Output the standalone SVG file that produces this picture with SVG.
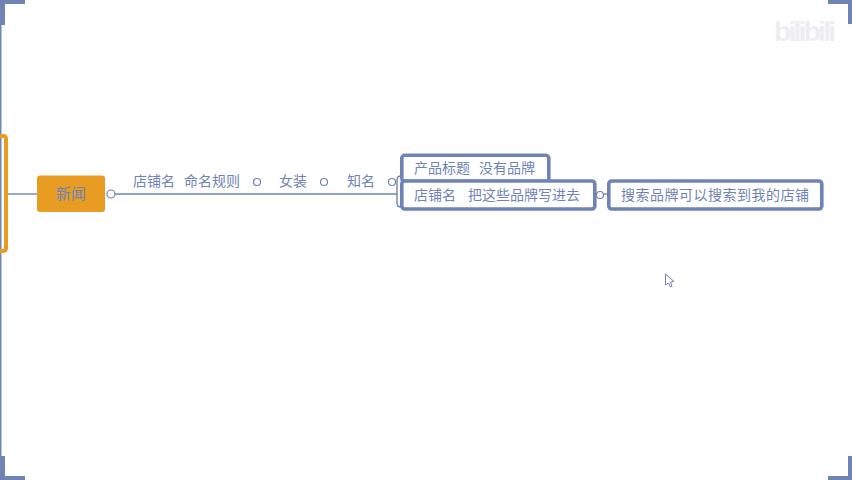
<svg xmlns="http://www.w3.org/2000/svg" width="852" height="480" viewBox="0 0 852 480">
<style>
.t{font-family:"Noto Sans CJK SC","Liberation Sans",sans-serif;font-size:14px;fill:#6f83b5}
.box{fill:#fff;stroke:#6f83b5;stroke-width:3.6}
.ln{fill:none;stroke:#6f83b5;stroke-width:1.4}
.c{fill:#fff;stroke:#6f83b5;stroke-width:1.2}
.frame{fill:#6f83b5}
</style>
<rect width="852" height="480" fill="#fff"/>
<g id="frame">
<path class="frame" d="M0 0H25V4H5V25H1.500V456H5V476H25V480H0Z"/>
<path class="frame" d="M828 0H852V24H848V4H828Z"/>
<path class="frame" d="M848 456H852V480H828V476H848Z"/>
</g>
<text x="774" y="41" font-family="Liberation Sans,sans-serif" font-size="28" font-weight="700" fill="#eceef3" textLength="62">bilibili</text>
<g id="connectors">
<path class="ln" d="M8 194H37"/>
<path class="ln" d="M115 194H397"/>
<path class="ln" d="M401 176Q397 176 397 180V203Q397 207 401 207"/>
<path class="ln" d="M596 194H609"/>
</g>
<g id="bracket"><path d="M-4 136H3Q6 136 6 139V248Q6 251 3 251H-4" fill="none" stroke="#e89d22" stroke-width="4"/></g>
<g id="node-xinwen">
<rect x="37" y="175.500" width="68" height="36.500" rx="3" fill="#e89d22"/>
<text x="71" y="199" text-anchor="middle" class="t" style="font-size:15px">新闻</text>
<circle class="c" cx="111" cy="194" r="4"/>
</g>
<g id="label-dianpuming"><text x="133" y="186" class="t">店铺名</text><text x="184" y="186" class="t">命名规则</text><circle class="c" cx="257" cy="182" r="3.500"/></g>
<g id="label-nvzhuang"><text x="279" y="186" class="t">女装</text><circle class="c" cx="324" cy="182" r="3.500"/></g>
<g id="label-zhiming"><text x="347" y="186" class="t">知名</text><circle class="c" cx="392" cy="182" r="3.500"/></g>
<g id="node-title">
<rect class="box" x="401.800" y="155.300" width="147" height="26" rx="3"/>
<text x="414" y="173" class="t">产品标题</text><text x="479" y="173" class="t">没有品牌</text>
</g>
<g id="node-shop">
<rect class="box" x="401.800" y="181" width="193" height="28" rx="3"/>
<text x="414" y="200" class="t">店铺名</text><text x="468" y="200" class="t">把这些品牌写进去</text>
<circle class="c" cx="600" cy="195" r="3.500"/>
</g>
<g id="node-search">
<rect class="box" x="608.800" y="181" width="213" height="28" rx="3"/>
<text x="621" y="200" class="t" textLength="188">搜索品牌可以搜索到我的店铺</text>
</g>
<path d="M665.500 274V285L668.500 283L670.500 287L672 286.300L670.500 282L674 281.500Z" fill="#fff" stroke="#6f83b5"/>
</svg>
